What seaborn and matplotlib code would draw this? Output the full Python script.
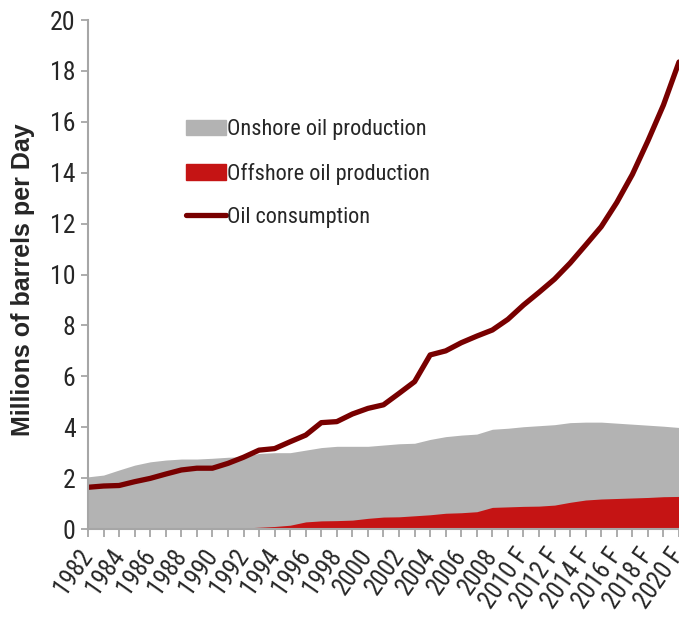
import pandas as pd
import matplotlib
matplotlib.use("Agg")
import matplotlib.pyplot as plt
from matplotlib.patches import Patch
from matplotlib.lines import Line2D
import seaborn as sns

# data (millions of barrels per day)
years = list(range(1982, 2021))
tick_labels = ["1982", "1984", "1986", "1988", "1990", "1992", "1994", "1996",
               "1998", "2000", "2002", "2004", "2006", "2008", "2010 F",
               "2012 F", "2014 F", "2016 F", "2018 F", "2020 F"]
offshore = [0, 0, 0, 0, 0, 0, 0, 0, 0, 0.0, 0.04, 0.07, 0.10, 0.15, 0.28,
            0.32, 0.33, 0.35, 0.42, 0.47, 0.48, 0.52, 0.56, 0.62, 0.64, 0.68,
            0.85, 0.87, 0.89, 0.90, 0.94, 1.05, 1.14, 1.18, 1.20, 1.22, 1.24,
            1.27, 1.28]
onshore = [2.05, 2.12, 2.32, 2.51, 2.64, 2.71, 2.75, 2.75, 2.78, 2.82, 2.80,
           2.90, 2.90, 2.85, 2.82, 2.88, 2.92, 2.90, 2.83, 2.83, 2.87, 2.85,
           2.96, 3.01, 3.05, 3.05, 3.07, 3.09, 3.13, 3.16, 3.16, 3.13, 3.06,
           3.02, 2.96, 2.90, 2.84, 2.77, 2.71]
consumption = [1.64, 1.69, 1.71, 1.86, 1.99, 2.16, 2.32, 2.39, 2.39, 2.58,
               2.82, 3.10, 3.16, 3.43, 3.69, 4.18, 4.22, 4.52, 4.74, 4.88,
               5.33, 5.79, 6.84, 7.00, 7.32, 7.58, 7.82, 8.24, 8.80, 9.30,
               9.82, 10.45, 11.16, 11.88, 12.83, 13.93, 15.25, 16.66, 18.35]

df = pd.DataFrame({"year": years, "offshore": offshore,
                   "onshore": onshore, "consumption": consumption})
df["x"] = range(len(df))
df["total"] = df["offshore"] + df["onshore"]

gray = "#b3b3b3"
red = "#c51414"
dark = "#780000"
axis_grey = "#a6a6a6"
narrow = ["Roboto Condensed", "DejaVu Sans"]

sns.set_style("white")
plt.rcParams["font.family"] = narrow

fig = plt.figure(figsize=(6.79, 6.37), dpi=100)
ax = fig.add_axes([0.1296, 0.1695, 0.8704, 0.7991])

# stacked areas
ax.fill_between(df["x"], 0, df["total"], color=gray, lw=0)
ax.fill_between(df["x"], 0, df["offshore"], color=red, lw=0)

# consumption line
sns.lineplot(data=df, x="x", y="consumption", color=dark, lw=3.8, ax=ax,
             legend=False)

ax.set_xlim(0, len(df) - 1)
ax.set_ylim(0, 20)
ax.set_yticks(range(0, 21, 2))
ax.set_xticks(df["x"])
labels = []
for i, y in enumerate(years):
    labels.append(tick_labels[i // 2] if i % 2 == 0 else "")
ax.set_xticklabels(labels, rotation=55, ha="right", va="center",
                   rotation_mode="anchor")
ax.tick_params(axis="y", labelsize=18.5, length=5, width=1.3, color=axis_grey,
               direction="out", left=True, pad=4)
ax.tick_params(axis="x", labelsize=18, length=6, width=1.3, color=axis_grey,
               direction="out", bottom=True, pad=10)

sns.despine(ax=ax, top=True, right=True)
for s in ["left", "bottom"]:
    ax.spines[s].set_color(axis_grey)
    ax.spines[s].set_linewidth(1.5)

ax.set_xlabel("")
ax.set_ylabel("Millions of barrels per Day", fontsize=18, fontweight="bold",
              family=["Liberation Sans", "DejaVu Sans"])
ax.yaxis.set_label_coords(-0.089, 0.49)

handles = [Patch(color=gray, label="Onshore oil production"),
           Patch(color=red, label="Offshore oil production"),
           Line2D([0], [0], color=dark, lw=3.8, solid_capstyle="round",
                  label="Oil consumption")]
ax.legend(handles=handles, loc="upper left", bbox_to_anchor=(0.15, 0.822),
          frameon=False, fontsize=16, handlelength=1.8, handleheight=0.7,
          handletextpad=0.08, labelspacing=1.0, borderaxespad=0)

fig.savefig("out.png", dpi=100)
